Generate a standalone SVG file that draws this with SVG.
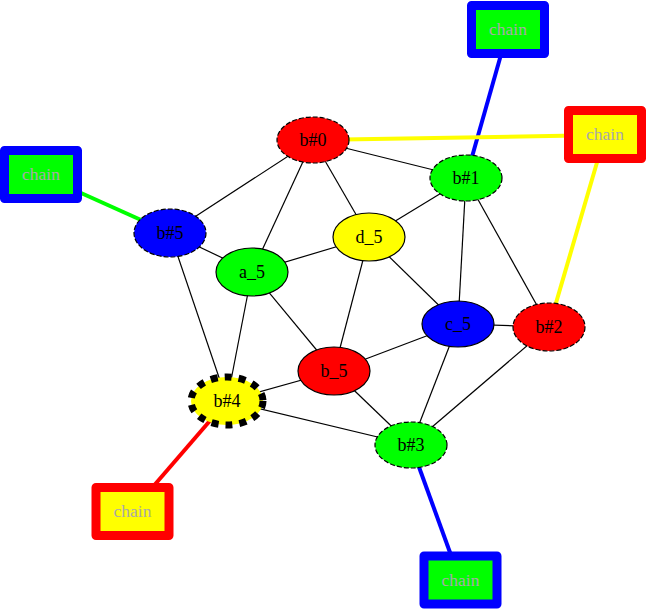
<svg xmlns="http://www.w3.org/2000/svg" width="647" height="610" viewBox="0 0 647 610">
<style>
.e{stroke:#000;stroke-width:1.2;fill:none}
.c{stroke-width:4;fill:none}
.n{stroke:#000;stroke-width:1.2}
.d{stroke-dasharray:5,2}
.t{font-family:"Liberation Serif","Times New Roman",serif;font-size:18px;text-anchor:middle;fill:#000}
.ch rect{stroke-width:9;stroke-linejoin:round}
.ch text{font-family:"Liberation Serif","Times New Roman",serif;font-size:17.5px;text-anchor:middle;fill:#a9a9a9}
</style>
<rect width="647" height="610" fill="#fff"/>
<g id="connectors">
<line class="e" x1="313" y1="140" x2="170" y2="233"/>
<line class="e" x1="313" y1="140" x2="252" y2="272"/>
<line class="e" x1="313" y1="140" x2="369" y2="237"/>
<line class="e" x1="313" y1="140" x2="466" y2="178"/>
<line class="e" x1="466" y1="178" x2="369" y2="237"/>
<line class="e" x1="466" y1="178" x2="458" y2="324"/>
<line class="e" x1="466" y1="178" x2="549" y2="327"/>
<line class="e" x1="170" y1="233" x2="252" y2="272"/>
<line class="e" x1="170" y1="233" x2="227" y2="401"/>
<line class="e" x1="252" y1="272" x2="369" y2="237"/>
<line class="e" x1="252" y1="272" x2="334" y2="371"/>
<line class="e" x1="252" y1="272" x2="227" y2="401"/>
<line class="e" x1="369" y1="237" x2="334" y2="371"/>
<line class="e" x1="369" y1="237" x2="458" y2="324"/>
<line class="e" x1="458" y1="324" x2="549" y2="327"/>
<line class="e" x1="458" y1="324" x2="334" y2="371"/>
<line class="e" x1="458" y1="324" x2="411" y2="445"/>
<line class="e" x1="549" y1="327" x2="411" y2="445"/>
<line class="e" x1="334" y1="371" x2="227" y2="401"/>
<line class="e" x1="334" y1="371" x2="411" y2="445"/>
<line class="e" x1="227" y1="401" x2="411" y2="445"/>
<line class="c" stroke="#0000ff" x1="508" y1="30" x2="466" y2="178"/>
<line class="c" stroke="#ffff00" x1="605" y1="135" x2="313" y2="140"/>
<line class="c" stroke="#ffff00" x1="605" y1="135" x2="549" y2="327"/>
<line class="c" stroke="#00ff00" x1="41" y1="175" x2="170" y2="233"/>
<line class="c" stroke="#ff0000" x1="132" y1="511" x2="227" y2="401"/>
<line class="c" stroke="#0000ff" x1="460" y1="580" x2="411" y2="445"/>
</g>
<g id="b0"><ellipse class="n d" cx="313" cy="140" rx="36" ry="23" fill="#ff0000"/><text class="t" x="313" y="146">b#0</text></g>
<g id="b1"><ellipse class="n d" cx="466" cy="178" rx="36" ry="23" fill="#00ff00"/><text class="t" x="466" y="184">b#1</text></g>
<g id="b5"><ellipse class="n d" cx="170" cy="233" rx="36" ry="24" fill="#0000ff"/><text class="t" x="170" y="239">b#5</text></g>
<g id="d5"><ellipse class="n" cx="369" cy="237" rx="36" ry="24" fill="#ffff00"/><text class="t" x="369" y="243">d_5</text></g>
<g id="a5"><ellipse class="n" cx="252" cy="272" rx="36" ry="24" fill="#00ff00"/><text class="t" x="252" y="278">a_5</text></g>
<g id="c5"><ellipse class="n" cx="458" cy="324" rx="36" ry="23" fill="#0000ff"/><text class="t" x="458" y="330">c_5</text></g>
<g id="b2"><ellipse class="n d" cx="549" cy="327" rx="36" ry="24" fill="#ff0000"/><text class="t" x="549" y="333">b#2</text></g>
<g id="b_5"><ellipse class="n" cx="334" cy="371" rx="36" ry="24" fill="#ff0000"/><text class="t" x="334" y="377">b_5</text></g>
<g id="b4"><ellipse cx="227" cy="401" rx="36" ry="24" fill="#ffff00" stroke="#000" stroke-width="7" stroke-dasharray="7,7"/><text class="t" x="227" y="407">b#4</text></g>
<g id="b3"><ellipse class="n d" cx="411" cy="445" rx="36" ry="23" fill="#00ff00"/><text class="t" x="411" y="451">b#3</text></g>
<g id="chain1" class="ch"><rect x="471.5" y="5.5" width="73" height="48" fill="#00ff00" stroke="#0000ff"/><text x="508" y="35">chain</text></g>
<g id="chain2" class="ch"><rect x="568.5" y="110.5" width="73" height="48" fill="#ffff00" stroke="#ff0000"/><text x="605" y="140">chain</text></g>
<g id="chain3" class="ch"><rect x="4.5" y="150.5" width="73" height="48" fill="#00ff00" stroke="#0000ff"/><text x="41" y="180">chain</text></g>
<g id="chain4" class="ch"><rect x="96" y="487.5" width="73" height="48" fill="#ffff00" stroke="#ff0000"/><text x="132.5" y="517">chain</text></g>
<g id="chain5" class="ch"><rect x="424" y="556" width="73" height="48" fill="#00ff00" stroke="#0000ff"/><text x="460.5" y="585.5">chain</text></g>
</svg>
